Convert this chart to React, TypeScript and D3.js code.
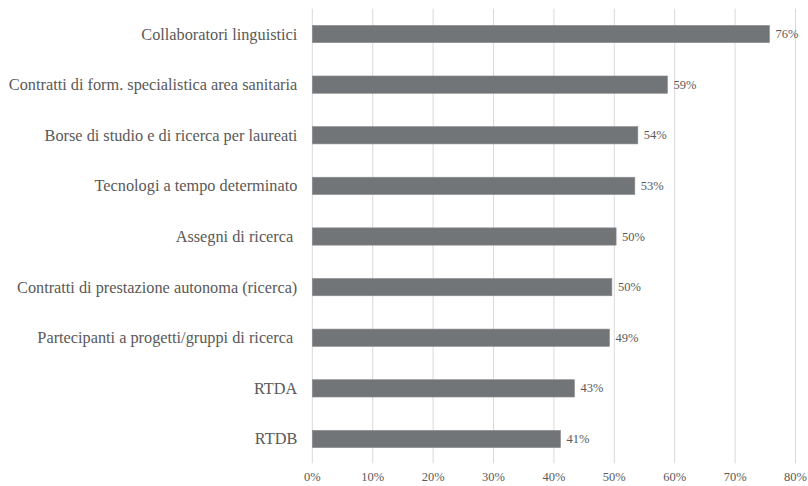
import React from "react";
import * as d3 from "d3";

const categories = [
  "Collaboratori linguistici",
  "Contratti di form. specialistica area sanitaria",
  "Borse di studio e di ricerca per laureati",
  "Tecnologi a tempo determinato",
  "Assegni di ricerca ",
  "Contratti di prestazione autonoma (ricerca)",
  "Partecipanti a progetti/gruppi di ricerca ",
  "RTDA",
  "RTDB",
];
const values = [0.757, 0.588, 0.539, 0.534, 0.503, 0.496, 0.492, 0.434, 0.411];
const ticks = [0, 0.1, 0.2, 0.3, 0.4, 0.5, 0.6, 0.7, 0.8];

const W = 808;
const H = 486;
const M = { left: 312.3, right: 12.5, top: 8.7, bottom: 21.7 };
const FONT = "'Liberation Serif'";
const TEXT = "#595959";

export default function App() {
  const x = d3.scaleLinear().domain([0, 0.8]).range([M.left, W - M.right]);
  const y = d3
    .scaleBand<string>()
    .domain(categories)
    .range([M.top, H - M.bottom])
    .paddingInner(0.658)
    .paddingOuter(0.329);
  const fmt = d3.format(".0%");
  return (
    <svg
      width={W}
      height={H}
      style={{ position: "absolute", left: 0, top: 0, background: "#fff" }}
    >
      {ticks.map((t) => (
        <line
          key={"g" + t}
          x1={x(t)}
          x2={x(t)}
          y1={M.top}
          y2={H - M.bottom - 1}
          stroke="#d9d9d9"
          strokeWidth={1}
        />
      ))}
      {categories.map((c, i) => (
        <g key={c}>
          <rect
            x={x(0)}
            y={y(c)}
            width={x(values[i]) - x(0)}
            height={y.bandwidth()}
            fill="#727577"
            stroke="#8a8c8e"
            strokeWidth={0.6}
          />
          <text
            x={M.left - 15}
            y={(y(c) as number) + y.bandwidth() / 2}
            textAnchor="end"
            dominantBaseline="central"
            style={{ whiteSpace: "pre", fontFamily: FONT, fontSize: 16.3 }}
            fill={TEXT}
          >
            {c}
          </text>
          <text
            x={x(values[i]) + 6}
            y={(y(c) as number) + y.bandwidth() / 2}
            dominantBaseline="central"
            style={{ fontFamily: FONT, fontSize: 12.5 }}
            fill={TEXT}
          >
            {fmt(values[i])}
          </text>
        </g>
      ))}
      {ticks.map((t) => (
        <text
          key={"t" + t}
          x={x(t)}
          y={H - 5}
          textAnchor="middle"
          style={{ fontFamily: FONT, fontSize: 12.5 }}
          fill={TEXT}
        >
          {fmt(t)}
        </text>
      ))}
    </svg>
  );
}
